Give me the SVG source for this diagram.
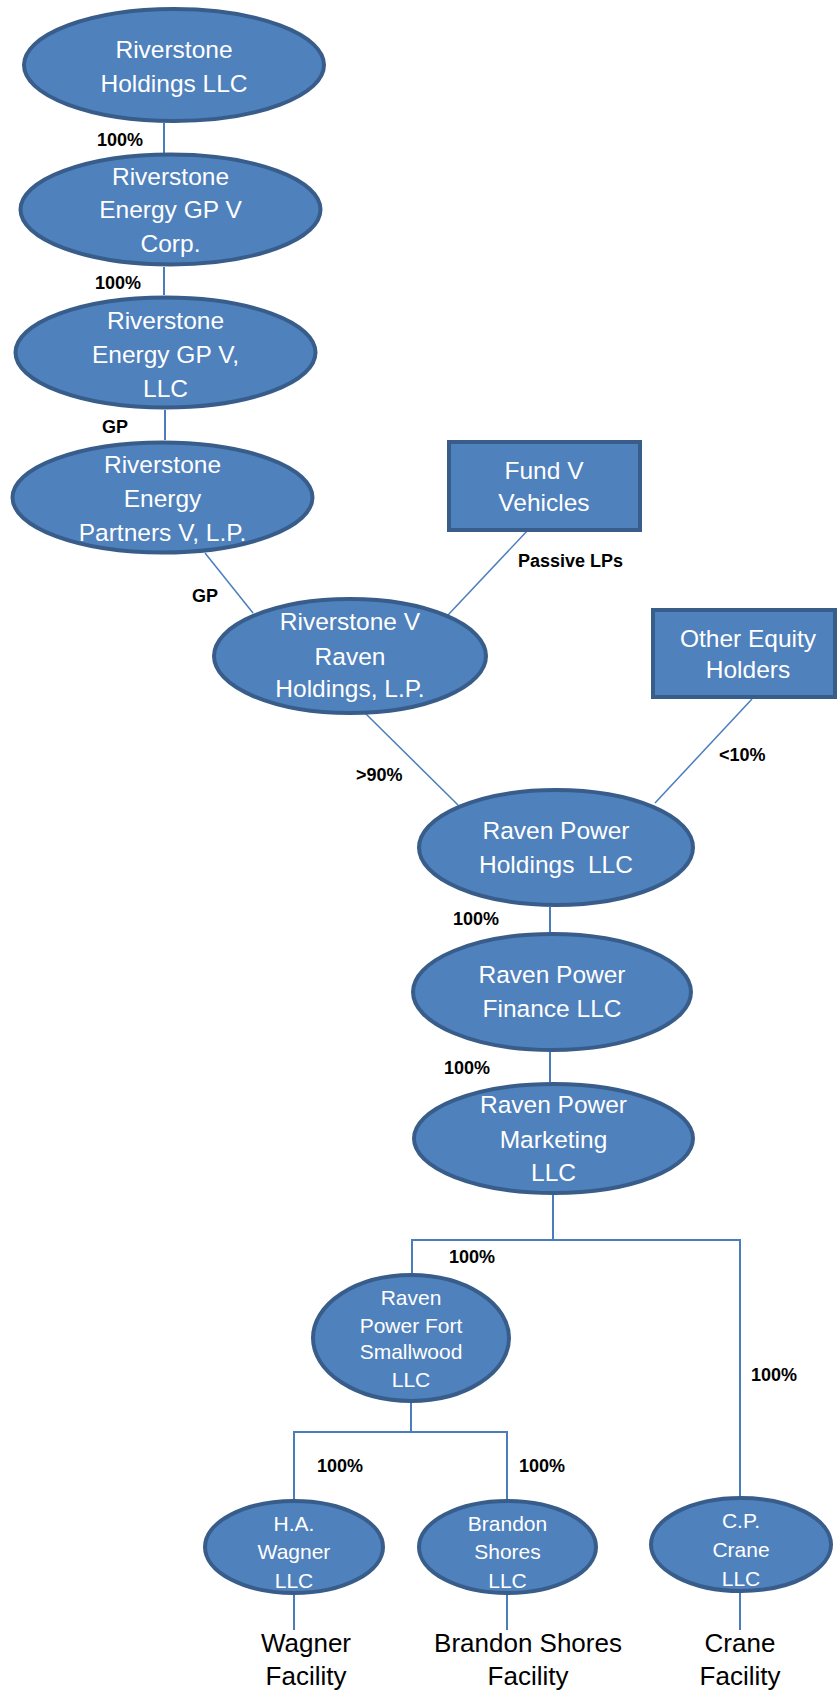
<svg xmlns="http://www.w3.org/2000/svg" width="838" height="1695" viewBox="0 0 838 1695">
<style>
.n{fill:#4F81BD;stroke:#385D8A;stroke-width:4}
.t{font-family:"Liberation Sans",Arial,sans-serif;font-size:24.5px;fill:#FFFFFF;text-anchor:middle}
.ts{font-family:"Liberation Sans",Arial,sans-serif;font-size:21px;fill:#FFFFFF;text-anchor:middle}
.c{fill:none;stroke:#4A7EBB;stroke-width:2}
.cd{fill:none;stroke:#4A7EBB;stroke-width:1.5}
.l{font-family:"Liberation Sans",Arial,sans-serif;font-size:18px;font-weight:bold;fill:#000000}
.f{font-family:"Liberation Sans",Arial,sans-serif;font-size:26px;fill:#000000;text-anchor:middle}
</style>
<rect width="838" height="1695" fill="#FFFFFF"/>
<g id="connectors">
<line class="c" x1="164" y1="123" x2="164" y2="153"/>
<line class="c" x1="164" y1="267" x2="164" y2="295"/>
<line class="c" x1="165" y1="410" x2="165" y2="440"/>
<line class="cd" x1="205" y1="553" x2="253" y2="613"/>
<line class="cd" x1="528" y1="530" x2="448" y2="615"/>
<line class="cd" x1="365" y1="713" x2="458" y2="805"/>
<line class="cd" x1="752" y1="699" x2="655" y2="803"/>
<line class="c" x1="550" y1="907" x2="550" y2="935"/>
<line class="c" x1="550" y1="1052" x2="550" y2="1082"/>
<line class="c" x1="553" y1="1195" x2="553" y2="1240"/>
<polyline class="c" points="412,1276 412,1240 740,1240 740,1498"/>
<line class="c" x1="411" y1="1403" x2="411" y2="1432"/>
<polyline class="c" points="294,1501 294,1432 507,1432 507,1501"/>
<line class="c" x1="294" y1="1595" x2="294" y2="1630"/>
<line class="c" x1="507" y1="1595" x2="507" y2="1630"/>
<line class="c" x1="740" y1="1593" x2="740" y2="1630"/>
<text class="l" x="97" y="146">100%</text>
<text class="l" x="95" y="289">100%</text>
<text class="l" x="102" y="433">GP</text>
<text class="l" x="192" y="602">GP</text>
<text class="l" x="518" y="567">Passive LPs</text>
<text class="l" x="356" y="781">&gt;90%</text>
<text class="l" x="719" y="761">&lt;10%</text>
<text class="l" x="453" y="925">100%</text>
<text class="l" x="444" y="1074">100%</text>
<text class="l" x="449" y="1263">100%</text>
<text class="l" x="751" y="1381">100%</text>
<text class="l" x="317" y="1472">100%</text>
<text class="l" x="519" y="1472">100%</text>
</g>
<g id="riverstone-holdings">
<ellipse class="n" cx="174" cy="65" rx="150" ry="56"/>
<text class="t" x="174" y="58">Riverstone</text>
<text class="t" x="174" y="92">Holdings LLC</text>
</g>
<g id="riverstone-gp-corp">
<ellipse class="n" cx="170.5" cy="209.5" rx="150" ry="55"/>
<text class="t" x="170.5" y="185">Riverstone</text>
<text class="t" x="170.5" y="218">Energy GP V</text>
<text class="t" x="170.5" y="252">Corp.</text>
</g>
<g id="riverstone-gp-llc">
<ellipse class="n" cx="165.5" cy="352.5" rx="150" ry="55"/>
<text class="t" x="165.5" y="329">Riverstone</text>
<text class="t" x="165.5" y="363">Energy GP V,</text>
<text class="t" x="165.5" y="397">LLC</text>
</g>
<g id="riverstone-partners">
<ellipse class="n" cx="162.5" cy="497.5" rx="150" ry="55"/>
<text class="t" x="162.5" y="473">Riverstone</text>
<text class="t" x="162.5" y="507">Energy</text>
<text class="t" x="162.5" y="541">Partners V, L.P.</text>
</g>
<g id="fund-v-vehicles">
<rect class="n" x="449" y="442" width="191" height="88"/>
<text class="t" x="544" y="479">Fund V</text>
<text class="t" x="544" y="511">Vehicles</text>
</g>
<g id="riverstone-v-raven">
<ellipse class="n" cx="350" cy="656" rx="136" ry="57"/>
<text class="t" x="350" y="630">Riverstone V</text>
<text class="t" x="350" y="665">Raven</text>
<text class="t" x="350" y="697">Holdings, L.P.</text>
</g>
<g id="other-equity-holders">
<rect class="n" x="653" y="610" width="182" height="87"/>
<text class="t" x="748" y="647">Other Equity</text>
<text class="t" x="748" y="678">Holders</text>
</g>
<g id="raven-power-holdings">
<ellipse class="n" cx="556" cy="847.5" rx="137" ry="57.5"/>
<text class="t" x="556" y="839">Raven Power</text>
<text class="t" x="556" y="873" xml:space="preserve">Holdings  LLC</text>
</g>
<g id="raven-power-finance">
<ellipse class="n" cx="552" cy="992" rx="139" ry="58"/>
<text class="t" x="552" y="983">Raven Power</text>
<text class="t" x="552" y="1017">Finance LLC</text>
</g>
<g id="raven-power-marketing">
<ellipse class="n" cx="553.5" cy="1138.5" rx="139.5" ry="54.5"/>
<text class="t" x="553.5" y="1113">Raven Power</text>
<text class="t" x="553.5" y="1148">Marketing</text>
<text class="t" x="553.5" y="1181">LLC</text>
</g>
<g id="fort-smallwood">
<ellipse class="n" cx="411" cy="1338" rx="98" ry="63"/>
<text class="ts" x="411" y="1305">Raven</text>
<text class="ts" x="411" y="1333">Power Fort</text>
<text class="ts" x="411" y="1359">Smallwood</text>
<text class="ts" x="411" y="1387">LLC</text>
</g>
<g id="wagner">
<ellipse class="n" cx="294" cy="1547" rx="89" ry="46"/>
<text class="ts" x="294" y="1531">H.A.</text>
<text class="ts" x="294" y="1559">Wagner</text>
<text class="ts" x="294" y="1588">LLC</text>
</g>
<g id="brandon-shores">
<ellipse class="n" cx="507.5" cy="1547" rx="88.5" ry="46"/>
<text class="ts" x="507.5" y="1531">Brandon</text>
<text class="ts" x="507.5" y="1559">Shores</text>
<text class="ts" x="507.5" y="1588">LLC</text>
</g>
<g id="crane">
<ellipse class="n" cx="741" cy="1544.5" rx="90" ry="46.5"/>
<text class="ts" x="741" y="1528">C.P.</text>
<text class="ts" x="741" y="1557">Crane</text>
<text class="ts" x="741" y="1586">LLC</text>
</g>
<g id="facilities">
<text class="f" x="306" y="1652">Wagner</text>
<text class="f" x="306" y="1685">Facility</text>
<text class="f" x="528" y="1652">Brandon Shores</text>
<text class="f" x="528" y="1685">Facility</text>
<text class="f" x="740" y="1652">Crane</text>
<text class="f" x="740" y="1685">Facility</text>
</g>
</svg>
